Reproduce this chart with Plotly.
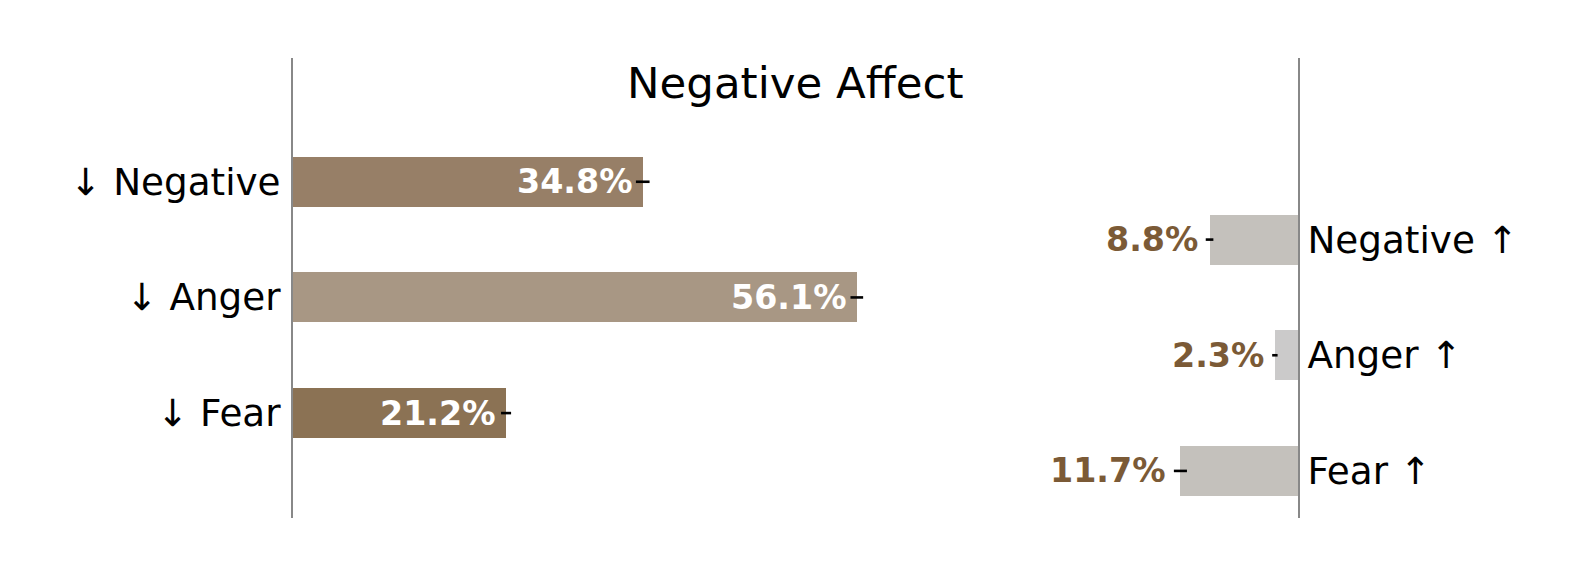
import plotly.graph_objects as go

# ---- data ----
categories = ["Negative", "Anger", "Fear"]
decrease_pct = [34.8, 56.1, 21.2]      # "↓" bars, from left
decrease_err = [0.68, 0.63, 0.5]
increase_pct = [8.8, 2.3, 11.7]        # "↑" bars, from right
increase_err = [0.38, 0.27, 0.65]
left_ticks = ["↓ " + c for c in categories]
right_ticks = [c + " ↑" for c in categories]
title_text = "Negative Affect"

# ---- styles ----
dec_colors = ["#977F67", "#A89784", "#8B7254"]
inc_colors = ["#C4C1BC", "#CBCACA", "#C4C1BC"]
label_brown = "#7B5A36"
FONT = "DejaVu Sans"
BAR_W = 0.433
FULL = 100

y_left = [i for i in range(len(categories))]
y_right = [i + 0.5 for i in range(len(categories))]
yrange = [2.907, -1.07]

fig = go.Figure()

fig.add_trace(go.Bar(
    orientation="h", y=y_left, x=decrease_pct, base=0, width=BAR_W,
    marker=dict(color=dec_colors, line=dict(width=0)),
    xaxis="x", yaxis="y", showlegend=False, hoverinfo="skip"))

fig.add_trace(go.Bar(
    orientation="h", y=y_right, x=[-v for v in increase_pct], base=FULL, width=BAR_W,
    marker=dict(color=inc_colors, line=dict(width=0)),
    xaxis="x", yaxis="y2", showlegend=False, hoverinfo="skip"))

# error bars
fig.add_trace(go.Scatter(
    x=decrease_pct, y=y_left, mode="markers",
    marker=dict(size=1, color="rgba(0,0,0,0)"),
    error_x=dict(type="data", array=decrease_err, color="black", thickness=2.6, width=0),
    xaxis="x", yaxis="y", showlegend=False, hoverinfo="skip"))
fig.add_trace(go.Scatter(
    x=[FULL - v for v in increase_pct], y=y_right, mode="markers",
    marker=dict(size=1, color="rgba(0,0,0,0)"),
    error_x=dict(type="data", array=increase_err, color="black", thickness=2.6, width=0),
    xaxis="x", yaxis="y2", showlegend=False, hoverinfo="skip"))

annotations = []
for v, yy in zip(decrease_pct, y_left):
    annotations.append(dict(
        x=v, y=yy, xref="x", yref="y", text=f"{v}%", showarrow=False,
        xanchor="right", yanchor="middle", xshift=-8,
        font=dict(family=FONT, size=33.3, color="white", weight="bold")))
for v, e, yy in zip(increase_pct, increase_err, y_right):
    annotations.append(dict(
        x=FULL - v - e, y=yy, xref="x", yref="y2", text=f"{v}%", showarrow=False,
        xanchor="right", yanchor="middle", xshift=-6,
        font=dict(family=FONT, size=33.3, color=label_brown, weight="bold")))
annotations.append(dict(
    x=0.5, y=0.945, xref="paper", yref="paper", text=title_text, showarrow=False,
    xanchor="center", yanchor="middle",
    font=dict(family=FONT, size=43.5, color="black")))

fig.update_layout(
    width=1590, height=576,
    margin=dict(l=285, r=300, t=50, b=66),
    plot_bgcolor="white", paper_bgcolor="white",
    bargap=0, barmode="overlay",
    font=dict(family=FONT, color="black"),
    xaxis=dict(range=[0, FULL], visible=False, showgrid=False, zeroline=False, fixedrange=True),
    yaxis=dict(range=yrange, tickmode="array", tickvals=y_left, ticktext=left_ticks,
               showline=True, linecolor="#888888", linewidth=2, ticks="",
               showgrid=False, zeroline=False, ticklabelstandoff=3,
               tickfont=dict(family=FONT, size=37.3, color="black")),
    yaxis2=dict(range=yrange, overlaying="y", side="right", anchor="x",
                tickmode="array", tickvals=y_right, ticktext=right_ticks,
                showline=True, linecolor="#888888", linewidth=2, ticks="",
                showgrid=False, zeroline=False, ticklabelstandoff=0,
                tickfont=dict(family=FONT, size=37.3, color="black")),
    annotations=annotations,
)

fig.write_html("out.html")
